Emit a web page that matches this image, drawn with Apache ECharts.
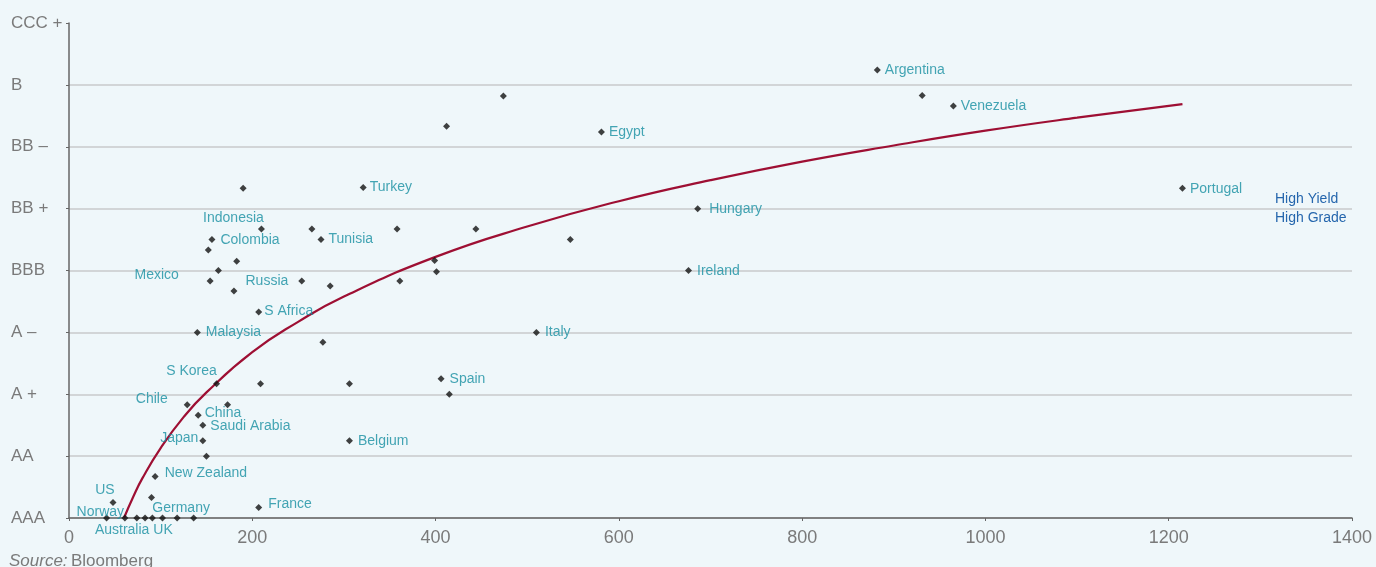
<!DOCTYPE html>
<html>
<head>
<meta charset="utf-8">
<script src="https://cdn.jsdelivr.net/npm/echarts@6/dist/echarts.min.js"></script>
<style>
html,body{margin:0;padding:0;background:#eff7fa;}
#c{width:1376px;height:567px;}
</style>
</head>
<body>
<div id="c"></div>
<script>
// ---- data ----
const ratingLabels = ['AAA', 'AA', 'A +', 'A –', 'BBB', 'BB +', 'BB –', 'B', 'CCC +'];
const xTicks = [0, 200, 400, 600, 800, 1000, 1200, 1400];
const countries = ['Argentina', '', 'Venezuela', '', '', 'Egypt', 'Portugal', 'Turkey', '', 'Hungary',
  'Indonesia', '', '', '', '', 'Tunisia', 'Colombia', '', '', '',
  '', 'Ireland', 'Mexico', '', 'Russia', '', '', '', 'S Africa', 'Malaysia',
  'Italy', '', 'S Korea', '', '', 'Spain', '', 'Chile', '', 'China',
  'Saudi Arabia', 'Japan', 'Belgium', '', 'New Zealand', '', 'US', 'France',
  'Norway', '', 'Australia UK', '', '', '', 'Germany', ''];
const spread = [882, 931, 965, 474, 412, 581, 1215, 321, 190, 686,
  210, 265, 358, 444, 547, 275, 156, 152, 183, 399,
  401, 676, 163, 154, 254, 285, 361, 180, 207, 140,
  510, 277, 161, 209, 306, 406, 415, 129, 173, 141,
  146, 146, 306, 150, 94, 90, 48, 207,
  41, 61, 74, 83, 91, 102, 118, 136];
const rating = [7.24, 6.83, 6.66, 6.82, 6.33, 6.24, 5.33, 5.34, 5.33, 5.0,
  4.67, 4.67, 4.67, 4.67, 4.5, 4.5, 4.5, 4.33, 4.15, 4.16,
  3.98, 4.0, 4.0, 3.83, 3.83, 3.75, 3.83, 3.67, 3.33, 3.0,
  3.0, 2.84, 2.17, 2.17, 2.17, 2.25, 2.0, 1.83, 1.83, 1.66,
  1.5, 1.25, 1.25, 1.0, 0.67, 0.33, 0.25, 0.17,
  0, 0, 0, 0, 0, 0, 0, 0];
// fitted trend curve
const trendX = [60, 70, 80, 100, 125, 150, 200, 250, 300, 400, 500, 600, 700, 800, 900, 1000, 1100, 1215];
const trendY = [0, 0.34, 0.64, 1.13, 1.63, 2.03, 2.68, 3.17, 3.58, 4.22, 4.71, 5.12, 5.46, 5.76, 6.02, 6.26, 6.47, 6.69];

// ---- label placement (style) ----
const place = {
  'Argentina': ['right', -1, 0], 'Venezuela': ['right', -1, 0], 'Egypt': ['right', -1, 0],
  'Portugal': ['right', -1, 1], 'Turkey': ['right', -2, 0], 'Hungary': ['right', 3, 1],
  'Indonesia': ['top', -28, 5], 'Tunisia': ['right', -1, 0], 'Colombia': ['right', 0, 1],
  'Ireland': ['right', 0, 1], 'Mexico': ['left', -31, 5], 'Russia': ['left', -5, 0],
  'S Africa': ['right', -3, -1], 'Malaysia': ['right', 0, 0], 'Italy': ['right', 0, 0],
  'S Korea': ['top', -25, 3], 'Spain': ['right', 0, 0], 'Chile': ['left', -11, -6],
  'China': ['right', -2, -2], 'Saudi Arabia': ['right', -1, 1], 'Japan': ['left', 4, -3],
  'Belgium': ['right', 0, 0], 'New Zealand': ['right', 1, -3], 'US': ['top', -8, 3],
  'France': ['right', 1, -3], 'Norway': ['left', 26, -6], 'Australia UK': ['bottom', -3, -3],
  'Germany': ['top', 4, 6]
};

const pts = countries.map((n, i) => {
  const d = {name: n, value: [spread[i], rating[i]]};
  if (n) {
    const p = place[n] || ['right', 0, 0];
    d.label = {show: true, position: p[0], offset: [p[1], p[2]], formatter: '{b}'};
  }
  return d;
});

const FONT = 'Liberation Sans, Arial, sans-serif';
const chart = echarts.init(document.getElementById('c'));
const gridCol = '#c8cacb';
chart.setOption({
  backgroundColor: '#eff7fa',
  animation: false,
  grid: {left: 69, right: 24, top: 23, bottom: 49},
  xAxis: {
    type: 'value', min: 0, max: 1400, interval: 200,
    axisLine: {show: true, lineStyle: {color: '#666', width: 1.5}},
    axisTick: {show: true, length: 3, lineStyle: {color: '#666'}},
    axisLabel: {color: '#7a7a7a', fontSize: 18, fontFamily: FONT, margin: 11,
      formatter: v => xTicks.includes(v) ? String(v) : ''},
    splitLine: {show: false}
  },
  yAxis: {
    type: 'value', min: 0, max: 8, interval: 1,
    axisLine: {show: true, lineStyle: {color: '#666', width: 1.5}},
    axisTick: {show: true, length: 3, lineStyle: {color: '#666'}},
    axisLabel: {color: '#7a7a7a', fontSize: 17, fontFamily: FONT,
      align: 'left', margin: 58, formatter: v => ratingLabels[v] || ''},
    splitLine: {show: true, lineStyle: {width: 1.5,
      color: [gridCol, gridCol, gridCol, gridCol, gridCol, gridCol, gridCol, gridCol, 'rgba(0,0,0,0)']}}
  },
  series: [
    {
      type: 'line', data: trendX.map((x, i) => [x, trendY[i]]), smooth: true, showSymbol: false,
      lineStyle: {color: '#9e0f33', width: 2.2}, z: 2, silent: true
    },
    {
      type: 'scatter', data: pts, symbol: 'diamond', symbolSize: 7,
      itemStyle: {color: '#111'}, z: 3,
      label: {show: false, color: '#178fa1', fontSize: 14, distance: 5, fontFamily: FONT}
    }
  ],
  graphic: [
    {type: 'text', left: 1275, top: 192, style: {text: 'High Yield', fill: '#2566ad', font: '14px ' + FONT}},
    {type: 'text', left: 1275, top: 211, style: {text: 'High Grade', fill: '#2566ad', font: '14px ' + FONT}},
    {type: 'text', left: 9, top: 553, style: {
      text: '{i|Source:} {n|Bloomberg}',
      rich: {
        i: {fontStyle: 'italic', fill: '#7a7a7a', fontSize: 17, fontFamily: FONT},
        n: {fill: '#7a7a7a', fontSize: 17, fontFamily: FONT}
      }
    }}
  ]
});
</script>
</body>
</html>
